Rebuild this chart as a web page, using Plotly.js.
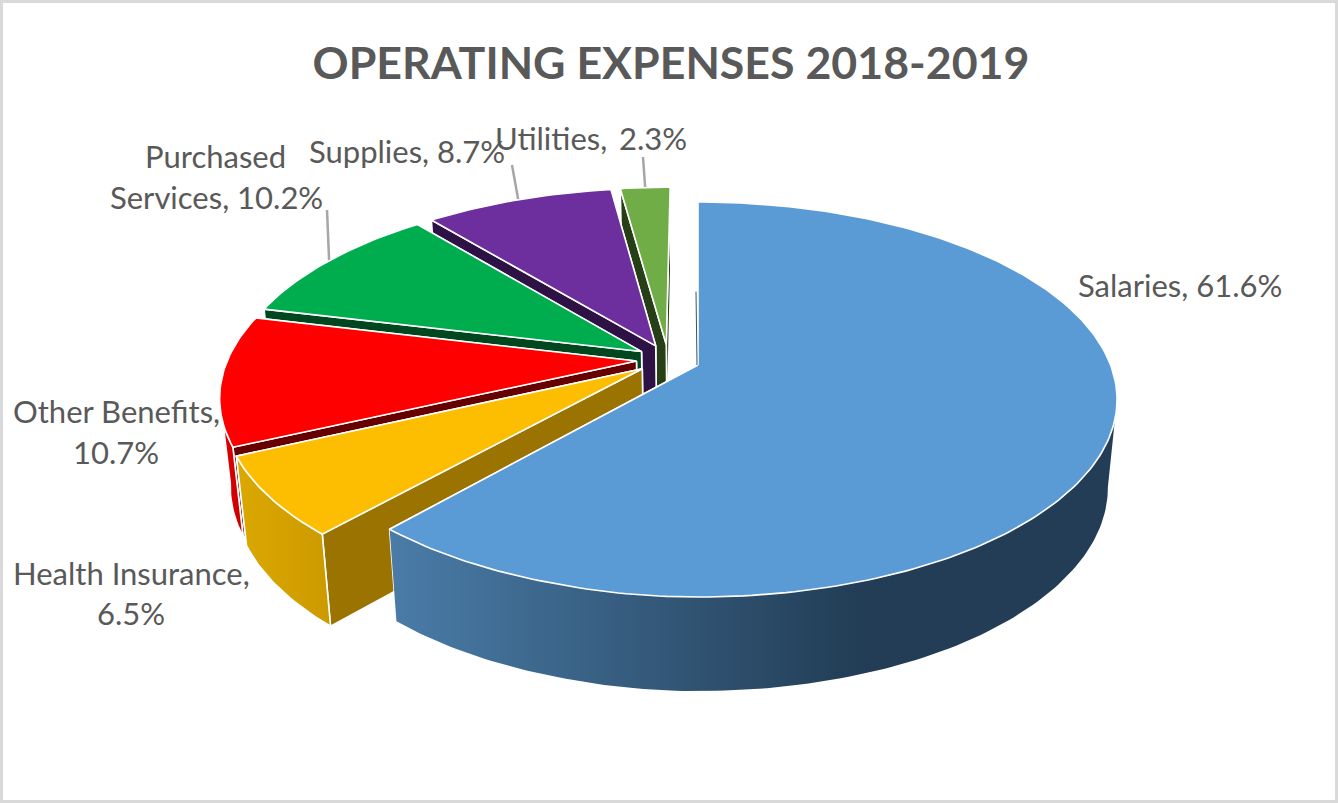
<!DOCTYPE html>
<html>
<head>
<meta charset="utf-8">
<script src="https://cdn.plot.ly/plotly-3.0.1.min.js"></script>
<style>html,body{margin:0;padding:0;background:#fff}#chart{width:1338px;height:803px}</style>
</head>
<body>
<div id="chart"></div>
<script>
// Operating expense shares, clockwise from twelve o'clock
const categories = ['Salaries', 'Health Insurance', 'Other Benefits', 'Purchased Services', 'Supplies', 'Utilities'];
const shares = [61.6, 6.5, 10.7, 10.2, 8.7, 2.3];
const chartTitle = 'OPERATING EXPENSES 2018-2019';

// Slice colours: top face, cut face, outer wall (left and right ends of its shading)
const topColors = ['#5b9bd5', '#fdbd00', '#ff0000', '#00ad4e', '#6c2f9d', '#70ad47'];
const cutColors = ['#223d55', '#9a7300', '#660000', '#00471f', '#2e1245', '#263f16'];
const wallLeft = ['#4a7ca8', '#dba800', '#e60000', '#008a3e', '#56257d', '#5a8a39'];
const wallRight = ['#223d55', '#cc9a00', '#c80000', '#008a3e', '#56257d', '#5a8a39'];

// Label layout: where each label wraps, the gap before its share, and the centre of each line
const wrapAfter = [null, 'Insurance,', 'Benefits,', 'Purchased', null, null];
const shareGaps = [' ', ' ', ' ', ' ', ' ', '&#8201; '];
const labelAnchors = [
  [[1180, 285]],
  [[131, 573], [131, 613]],
  [[116, 411], [116, 452]],
  [[215, 156], [216, 197]],
  [[407, 151]],
  [[591, 138]]
];
// Leader line start points; the far end sits on the slice rim
const leaderStarts = [null, null, null, [327, 210], [512, 165], [643, 157]];

// Perspective view of the tilted pie
const view = {ox: 698, oy: 365, a: 412.6, b: 191.5, k: 0.1747, explode: 0.08, depth: 92,
  shrink: 0.978, shrinkX: 700, skew: 5, skewPivot: 0.77};

const total = shares.reduce((s, v) => s + v, 0);
const rad = d => d * Math.PI / 180;
const dir = d => [Math.sin(rad(d)), -Math.cos(rad(d))];

// Slice angle ranges in degrees
let running = 0;
const slices = shares.map((v, i) => {
  const start = running;
  running += v / total * 360;
  return {i, start, end: running, mid: (start + running) / 2};
});

// u runs to the right and v towards the viewer, so twelve o'clock is v = -1.
// Every slice moves out along its own middle direction, relative to the first slice.
const refDir = dir(slices[0].mid);
slices.forEach(s => {
  const d = dir(s.mid);
  s.cu = view.explode * (d[0] - refDir[0]);
  s.cv = view.explode * (d[1] - refDir[1]);
});

function project(u, v) {
  const w = 1 - view.k * v;
  // The left half of the view leans slightly towards the centre as it nears the viewer
  const lean = Math.min(1, Math.max(0, -u / 0.3)) * view.skew * Math.max(0, v + view.skewPivot);
  return [view.ox + view.a * u / w + lean, view.oy + view.b * v / w];
}
function lower(p) {
  return [view.shrinkX + (p[0] - view.shrinkX) * view.shrink, p[1] + view.depth + (p[1] - 530) * 0.03];
}
function rimPoint(s, deg) {
  const d = dir(deg);
  return project(s.cu + d[0], s.cv + d[1]);
}
function arc(s, from, to) {
  const pts = [];
  const n = Math.max(2, Math.ceil(Math.abs(to - from)));
  for (let j = 0; j <= n; j++) pts.push(rimPoint(s, from + (to - from) * j / n));
  return pts;
}
function apex(s) { return project(s.cu, s.cv); }

function poly(pts, fill, extra) {
  const closed = pts.concat([pts[0]]);
  return Object.assign({
    type: 'scatter', mode: 'lines', hoverinfo: 'skip', showlegend: false,
    x: closed.map(p => p[0]), y: closed.map(p => p[1]),
    fill: 'toself', fillcolor: fill,
    line: {color: '#ffffff', width: 1.6}
  }, extra || {});
}

const traces = [];

// Leader lines go underneath the pie
slices.forEach(s => {
  const from = leaderStarts[s.i];
  if (!from) return;
  const to = rimPoint(s, s.mid);
  traces.push({type: 'scatter', mode: 'lines', hoverinfo: 'skip', showlegend: false,
    x: [from[0], to[0]], y: [from[1], to[1]], line: {color: '#a6a6a6', width: 2.5}});
});

// Painter's order: the slices nearest the back go first
slices.slice().reverse().forEach(s => {
  const c = apex(s);
  const cb = lower(c);
  const i = s.i;
  [s.end, s.start].forEach(deg => {
    const r = rimPoint(s, deg);
    traces.push(poly([c, r, lower(r), cb], cutColors[i]));
  });
  // Outer wall, only between the two silhouette angles where the rim faces the viewer
  const from = Math.max(s.start, 100), to = Math.min(s.end, 260);
  if (to > from) {
    const rim = arc(s, from, to);
    const wall = rim.concat(rim.slice().reverse().map(lower));
    const xs = wall.map(p => p[0]);
    const xMin = Math.min(...xs);
    const xMax = i === 0 ? 860 : Math.max(...xs);
    traces.push(poly(wall, wallLeft[i], {
      line: {color: i === 0 ? 'rgba(255,255,255,0)' : '#ffffff', width: 1.6},
      fillgradient: {type: 'horizontal', start: xMin, stop: xMax,
        colorscale: [[0, wallLeft[i]], [1, wallRight[i]]]}
    }));
  }
  // Top face
  traces.push(poly([c].concat(arc(s, s.start, s.end)), topColors[i]));
});

// Faint seam where the first slice's cut face just shows along its upper edge
(function () {
  const s = slices[0];
  const c = apex(s), r = rimPoint(s, s.start);
  traces.push({type: 'scatter', mode: 'lines', hoverinfo: 'skip', showlegend: false,
    x: [c[0] - 1, c[0] + (r[0] - c[0]) * 0.55 - 2], y: [c[1], c[1] + (r[1] - c[1]) * 0.55],
    line: {color: '#ffffff', width: 2}});
  traces.push({type: 'scatter', mode: 'lines', hoverinfo: 'skip', showlegend: false,
    x: [c[0] - 1, c[0] + (r[0] - c[0]) * 0.45 - 2], y: [c[1], c[1] + (r[1] - c[1]) * 0.45],
    line: {color: '#33536e', width: 1}});
})();

// Labels read "Name, share%" and wrap where the layout asks
const annotations = [];
categories.forEach((name, i) => {
  const text = `${name},${shareGaps[i]}${shares[i].toFixed(1)}%`;
  const cut = wrapAfter[i] ? text.indexOf(wrapAfter[i]) + wrapAfter[i].length : -1;
  const lines = cut > 0 ? [text.slice(0, cut), text.slice(cut).trim()] : [text];
  lines.forEach((line, j) => {
    annotations.push({
      x: labelAnchors[i][j][0], y: labelAnchors[i][j][1], xref: 'x', yref: 'y',
      text: line, showarrow: false, xanchor: 'center', yanchor: 'middle',
      font: {family: 'Lato, sans-serif', size: 31, color: '#595959'}
    });
  });
});

const layout = {
  width: 1338, height: 803,
  margin: {l: 0, r: 0, t: 0, b: 0},
  paper_bgcolor: '#ffffff', plot_bgcolor: '#ffffff',
  showlegend: false,
  title: {
    text: '<b>' + chartTitle + '</b>', x: 671 / 1338, xanchor: 'center',
    y: 1 - 63 / 803, yanchor: 'middle', yref: 'container',
    font: {family: 'Lato, sans-serif', size: 44.7, color: '#595959'}
  },
  xaxis: {range: [0, 1338], visible: false, fixedrange: true},
  yaxis: {range: [803, 0], visible: false, fixedrange: true},
  annotations,
  shapes: [{type: 'rect', xref: 'paper', yref: 'paper', x0: 0, y0: 0, x1: 1, y1: 1,
    line: {color: '#d9d9d9', width: 6}}]
};

Plotly.newPlot('chart', traces, layout, {displayModeBar: false, staticPlot: true});
</script>
</body>
</html>
